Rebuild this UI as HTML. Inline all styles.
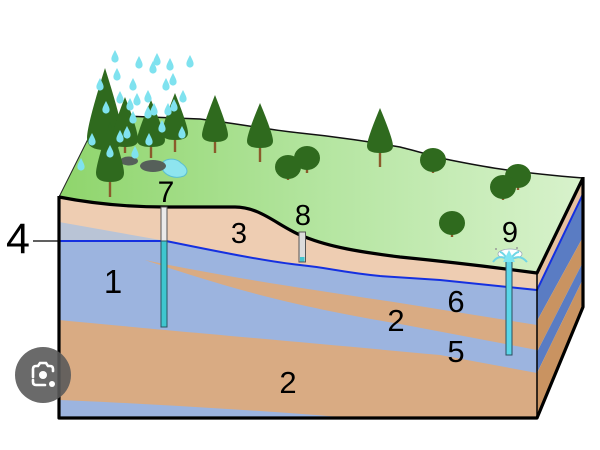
<!DOCTYPE html>
<html><head><meta charset="utf-8"><style>
html,body{margin:0;padding:0;background:#fff;}
svg{display:block;}
text{font-family:"Liberation Sans",sans-serif;fill:#000;}
</style></head><body>
<svg width="600" height="450" viewBox="0 0 600 450" xmlns="http://www.w3.org/2000/svg">
<defs>
<linearGradient id="grass" x1="60" y1="0" x2="583" y2="0" gradientUnits="userSpaceOnUse">
<stop offset="0" stop-color="#8fd56c"/><stop offset="0.5" stop-color="#b4e5a0"/><stop offset="1" stop-color="#d8f2cc"/>
</linearGradient>
<path id="drop" d="M0,-7 C2,-3 3.6,-0.5 3.6,2 A3.6,3.6 0 0 1 -3.6,2 C-3.6,-0.5 -2,-3 0,-7 Z" fill="#7fe2ef"/>
</defs>

<!-- front face base (blue) -->
<rect x="59" y="195" width="478" height="223" fill="#9cb4df"/>
<!-- grey unsaturated wedge -->
<polygon points="59,222 166,241 59,241" fill="#b9c4d6"/>
<!-- top soil layer 3 -->
<path d="M59,197 Q110,207 166,207 L235,207 C262,207 280,228 305,237 C330,247 360,252 400,257 C450,262 500,268 537,273 L537,290 L440,280 L380,276 C340,272 330,268 300,265 C270,262 220,252 166,241 L59,241 Z" fill="#eecdb2"/>
<polygon points="59,222 166,241 59,241" fill="#b9c4d6"/>
<!-- tan lens -->
<path d="M145,260 C220,276 300,288 400,303 L537,325 L537,350 L400,324 C300,307 240,292 145,260 Z" fill="#d9ab83"/>
<!-- lower tan -->
<path d="M59,320 C140,328 300,342 440,355 L537,373 L537,418 L350,418 C300,413 140,403 59,400 Z" fill="#d9ab83"/>

<!-- side face -->
<polygon points="537,273 583,178 583,195 537,290" fill="#e6c0a0"/>
<polygon points="537,290 583,195 583,237 537,321" fill="#5a7cc3"/>
<polygon points="537,321 583,237 583,262 537,352" fill="#c99361"/>
<polygon points="537,352 583,262 583,279 537,373" fill="#5a7cc3"/>
<polygon points="537,373 583,279 583,307 537,418" fill="#c99361"/>

<!-- water table line -->
<path d="M59,241 L166,241 C220,252 270,262 300,265 C330,268 340,272 380,276 L440,280 L537,290 L583,194" fill="none" stroke="#1530e0" stroke-width="2"/>
<!-- leader for 4 -->
<line x1="33" y1="241" x2="59" y2="241" stroke="#000" stroke-width="1.2"/>

<!-- top grass surface -->
<path d="M59,197 L100,115 C150,117 180,118 200,119 C240,124 270,130 300,133 C340,137 370,142 400,147 C420,152 440,158 450,160 C480,166 510,172 583,178 L537,273 C500,268 450,262 400,257 C360,252 330,247 305,237 C280,228 262,207 235,207 L166,207 Q110,207 59,197 Z" fill="url(#grass)"/>
<path d="M100,115 C150,117 180,118 200,119 C240,124 270,130 300,133 C340,137 370,142 400,147 C420,152 440,158 450,160 C480,166 510,172 583,178" fill="none" stroke="#111" stroke-width="1.5"/>
<line x1="59" y1="197" x2="100" y2="115" stroke="#222" stroke-width="1"/>

<!-- outlines -->
<path d="M59,197 Q110,207 166,207 L235,207 C262,207 280,228 305,237 C330,247 360,252 400,257 C450,262 500,268 537,273 L583,178" fill="none" stroke="#000" stroke-width="3.2" stroke-linejoin="round"/>
<path d="M59,196 L59,418 L537,418 L583,307 L583,177" fill="none" stroke="#000" stroke-width="3.2" stroke-linejoin="round"/>
<line x1="537" y1="273" x2="537" y2="418" stroke="#000" stroke-width="1.5"/>

<!-- ponds -->
<path d="M161,166 C162,158 176,157 181,163 C186,166 190,172 184,176 C176,179 164,177 161,166 Z" fill="#8ee5ef" stroke="#5bbfd0" stroke-width="1"/>
<ellipse cx="153" cy="166" rx="13" ry="6" fill="#56605a"/>
<ellipse cx="129" cy="161" rx="9" ry="4.5" fill="#56605a"/>

<!-- trunks -->
<g stroke="#8b5a2b" stroke-width="2.4">
<line x1="215" y1="138" x2="215" y2="153"/>
<line x1="260" y1="144" x2="260" y2="162"/>
<line x1="380" y1="149" x2="380" y2="167"/>
<line x1="103" y1="145" x2="103" y2="162"/>
<line x1="175" y1="136" x2="175" y2="152"/>
<line x1="151" y1="143" x2="151" y2="158"/>
<line x1="125" y1="143" x2="125" y2="153"/>
<line x1="110" y1="178" x2="110" y2="197"/>
<line x1="288" y1="170" x2="288" y2="180"/>
<line x1="307" y1="160" x2="307" y2="173"/>
<line x1="433" y1="163" x2="433" y2="173"/>
<line x1="518" y1="178" x2="518" y2="190"/>
<line x1="503" y1="190" x2="503" y2="200"/>
<line x1="452" y1="226" x2="452" y2="237"/>
</g>
<!-- trees -->
<g fill="#2f6a1e">
<path d="M215,95 Q228,128 228,135 Q228,142 215,142 Q202,142 202,135 Q202,128 215,95Z"/>
<path d="M260,103 Q273,134 273,141 Q273,148 260,148 Q247,148 247,141 Q247,134 260,103Z"/>
<path d="M380,108 Q393,139 393,146 Q393,153 380,153 Q367,153 367,146 Q367,139 380,108Z"/>
<path d="M105,68 Q123,125 123,138 Q123,150 105,150 Q87,150 87,138 Q87,125 105,68Z"/>
<path d="M175,93 Q188,126 188,133 Q188,140 175,140 Q162,140 162,133 Q162,126 175,93Z"/>
<path d="M151,100 Q165,133 165,140 Q165,147 151,147 Q137,147 137,140 Q137,133 151,100Z"/>
<path d="M125,97 Q138,130 138,140 Q138,147 125,147 Q112,147 112,140 Q112,130 125,97Z"/>
<path d="M110,122 Q124,164 124,173 Q124,182 110,182 Q96,182 96,173 Q96,164 110,122Z"/>
<ellipse cx="307" cy="158" rx="13" ry="12"/>
<ellipse cx="288" cy="167" rx="13" ry="12"/>
<ellipse cx="433" cy="160" rx="13" ry="12"/>
<ellipse cx="518" cy="176" rx="13" ry="12"/>
<ellipse cx="503" cy="187" rx="13" ry="12"/>
<ellipse cx="452" cy="223" rx="13" ry="12"/>
</g>

<!-- rain -->
<g>
<use href="#drop" x="115" y="57"/><use href="#drop" x="117" y="75"/><use href="#drop" x="100" y="85"/>
<use href="#drop" x="139" y="63"/><use href="#drop" x="157" y="60"/><use href="#drop" x="153" y="68"/>
<use href="#drop" x="170" y="65"/><use href="#drop" x="190" y="62"/><use href="#drop" x="133" y="85"/>
<use href="#drop" x="166" y="85"/><use href="#drop" x="173" y="80"/><use href="#drop" x="148" y="97"/>
<use href="#drop" x="137" y="100"/><use href="#drop" x="120" y="98"/><use href="#drop" x="183" y="97"/>
<use href="#drop" x="130" y="105"/><use href="#drop" x="106" y="108"/><use href="#drop" x="133" y="118"/>
<use href="#drop" x="148" y="113"/><use href="#drop" x="154" y="110"/><use href="#drop" x="168" y="110"/>
<use href="#drop" x="174" y="106"/><use href="#drop" x="162" y="127"/><use href="#drop" x="182" y="133"/>
<use href="#drop" x="127" y="133"/><use href="#drop" x="120" y="137"/><use href="#drop" x="92" y="140"/>
<use href="#drop" x="149" y="140"/><use href="#drop" x="110" y="152"/><use href="#drop" x="135" y="153"/>
<use href="#drop" x="81" y="165"/>
</g>

<!-- wells -->
<rect x="161" y="207" width="6" height="34" fill="#e9e9e9" stroke="#555" stroke-width="1"/>
<rect x="161" y="241" width="6" height="86" fill="#3fc6cf" stroke="#2a5560" stroke-width="1"/>
<rect x="299" y="232" width="6.5" height="30" fill="#dcdcdc" stroke="#555" stroke-width="1"/>
<rect x="300" y="257" width="4.5" height="4.5" fill="#3fc6cf"/>
<rect x="506" y="258" width="6" height="97" fill="#5ad6e8" stroke="#2b4c5c" stroke-width="1"/>
<!-- fountain -->
<ellipse cx="510" cy="254" rx="12" ry="5" fill="#fff" stroke="#9ab" stroke-width="0.8"/>
<path d="M509,262 C504,255 497,256 493,262 M509,262 C515,255 522,256 527,262 M509,262 C506,256 502,252 500,252 M509,262 C512,256 516,252 519,252" fill="none" stroke="#6fd6e6" stroke-width="2"/>
<path d="M503,262 L509,250 L515,262 Z" fill="#7fe4f2"/>
<circle cx="496" cy="249" r="1" fill="#999"/><circle cx="517" cy="248" r="1" fill="#999"/>

<!-- labels -->
<text x="166" y="202" font-size="30" text-anchor="middle">7</text>
<text x="303" y="225" font-size="29" text-anchor="middle">8</text>
<text x="510" y="242" font-size="29" text-anchor="middle">9</text>
<text x="239" y="243" font-size="29" text-anchor="middle">3</text>
<text x="18" y="253" font-size="43" text-anchor="middle">4</text>
<text x="113" y="293" font-size="33" text-anchor="middle">1</text>
<text x="396" y="331" font-size="31" text-anchor="middle">2</text>
<text x="456" y="312" font-size="31" text-anchor="middle">6</text>
<text x="456" y="362" font-size="31" text-anchor="middle">5</text>
<text x="288" y="393" font-size="31" text-anchor="middle">2</text>

<!-- lens icon -->
<circle cx="43" cy="375" r="28" fill="#5a5a5a" fill-opacity="0.9"/>
<g fill="none" stroke="#fff" stroke-width="2.6" stroke-linecap="round">
<path d="M33,377 L33,369 Q33,366 36,366 L38,366 L40,363 L46,363 L48,366 L50,366 Q53,366 53,369 L53,371"/>
<path d="M33,380 L33,382 Q33,385 36,385 L45,385"/>
</g>
<circle cx="43" cy="375" r="4" fill="#fff"/>
<circle cx="52" cy="384" r="3" fill="#fff"/>
</svg>
</body></html>
